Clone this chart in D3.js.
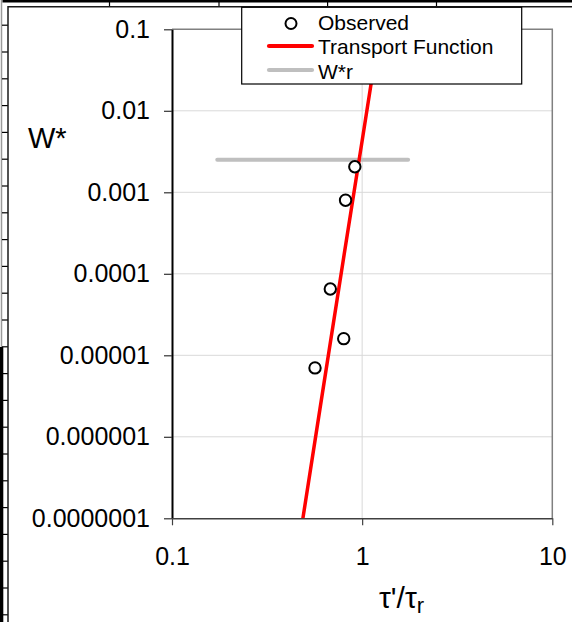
<!DOCTYPE html>
<html>
<head>
<meta charset="utf-8">
<script src="https://cdn.jsdelivr.net/npm/d3@7/dist/d3.min.js"></script>
<style>
  html, body { margin: 0; padding: 0; background: #ffffff; }
  svg { display: block; font-family: "Liberation Sans", Arial, sans-serif; }
</style>
</head>
<body>
<svg id="chart" width="572" height="622"></svg>
<script>
// Observed bedload transport rates (dimensionless W*) against shear stress ratio
const obsTau = [0.915, 0.818, 0.68, 0.80, 0.565];
const obsW   = [0.00206, 0.0008, 0.000065, 0.000016, 0.000007];

// Transport function curve
const fnTau = [0.488, 0.6, 0.8, 1.0, 1.236];
const fnW   = [1e-7, 2.2e-6, 1.6e-4, 4.3e-3, 0.1];

// Reference transport rate W*r
const refTau = [0.173, 1.745];
const refW   = [0.0025, 0.0025];

// Axis ticks
const xTicks = [0.1, 1, 10];
const xTickLabels = ["0.1", "1", "10"];
const yTicks = [0.1, 0.01, 0.001, 0.0001, 0.00001, 0.000001, 0.0000001];
const yTickLabels = ["0.1", "0.01", "0.001", "0.0001", "0.00001", "0.000001", "0.0000001"];

const legendLabels = ["Observed", "Transport Function", "W*r"];

const svg = d3.select("#chart");
const plot = { left: 172, right: 552.3, top: 29.3, bottom: 518.3 };

const x = d3.scaleLog().domain([0.1, 10]).range([plot.left, plot.right]);
const y = d3.scaleLog().domain([1e-7, 0.1]).range([plot.bottom, plot.top]);

// ---- sheet background lines around the chart object ----
const sheet = svg.append("g");
sheet.append("line").attr("x1", 1.5).attr("x2", 1.5).attr("y1", 0).attr("y2", 347)
  .attr("stroke", "#9a9a9a").attr("stroke-width", 1.5);
sheet.append("rect").attr("x", 0).attr("y", 347).attr("width", 3.3).attr("height", 275).attr("fill", "#000");
sheet.append("rect").attr("x", 2.5).attr("y", 0).attr("width", 572).attr("height", 2.5).attr("fill", "#000");
d3.range(0, 23).forEach(k => {
  const yy = 25.2 + 26.8 * k;
  sheet.append("line").attr("x1", 2).attr("x2", 8).attr("y1", yy).attr("y2", yy)
    .attr("stroke", "#000").attr("stroke-width", 1.2);
});
[109.5, 219, 327.6, 436.5].forEach(xx => {
  sheet.append("line").attr("x1", xx).attr("x2", xx).attr("y1", 2).attr("y2", 7)
    .attr("stroke", "#000").attr("stroke-width", 1.2);
});
// chart object frame
sheet.append("path").attr("d", "M8,622 V6.8 H572").attr("fill", "none")
  .attr("stroke", "#1a1a1a").attr("stroke-width", 1.5);

// ---- gridlines ----
const grid = svg.append("g");
yTicks.filter(v => v < 0.1 && v > 1e-7).forEach(v => {
  grid.append("line").attr("x1", plot.left).attr("x2", plot.right)
    .attr("y1", y(v)).attr("y2", y(v)).attr("stroke", "#d9d9d9").attr("stroke-width", 1);
});
xTicks.filter(v => v > 0.1 && v < 10).forEach(v => {
  grid.append("line").attr("x1", x(v)).attr("x2", x(v))
    .attr("y1", plot.top).attr("y2", plot.bottom).attr("stroke", "#d9d9d9").attr("stroke-width", 1);
});

// top and right plot border
svg.append("path")
  .attr("d", `M${plot.left},${plot.top} H${plot.right} V${plot.bottom}`)
  .attr("fill", "none").attr("stroke", "#808080").attr("stroke-width", 1.5);

// ---- axes ----
const yAxis = d3.axisLeft(y).tickValues(yTicks)
  .tickFormat((d, i) => yTickLabels[i]).tickSize(8).tickSizeOuter(0).tickPadding(14);
const gy = svg.append("g").attr("transform", `translate(${plot.left},0)`).call(yAxis);
gy.select(".domain").attr("stroke", "#000").attr("stroke-width", 2);
gy.selectAll(".tick line").attr("stroke", "#333").attr("stroke-width", 1.2);
gy.selectAll(".tick text").attr("font-size", 25).attr("fill", "#000")
  .attr("font-family", "Liberation Sans, Arial, sans-serif");

const xAxis = d3.axisBottom(x).tickValues(xTicks)
  .tickFormat((d, i) => xTickLabels[i]).tickSize(7).tickSizeOuter(0).tickPadding(21.5);
const gx = svg.append("g").attr("transform", `translate(0,${plot.bottom})`).call(xAxis);
gx.select(".domain").attr("stroke", "#404040").attr("stroke-width", 1.5);
gx.selectAll(".tick line").attr("stroke", "#404040").attr("stroke-width", 1.2);
gx.selectAll(".tick text").attr("font-size", 25).attr("fill", "#000")
  .attr("font-family", "Liberation Sans, Arial, sans-serif");

// axis titles
svg.append("text").attr("x", 28).attr("y", 148).attr("font-size", 29).attr("fill", "#000").text("W*");
const xt = svg.append("text").attr("x", 379).attr("y", 608).attr("font-size", 30).attr("fill", "#000");
xt.append("tspan").text("τ'/τ");
xt.append("tspan").attr("font-size", 22).attr("dy", 5.3).text("r");

// ---- data series ----
svg.append("defs").append("clipPath").attr("id", "plotClip")
  .append("rect").attr("x", plot.left).attr("y", plot.top)
  .attr("width", plot.right - plot.left).attr("height", plot.bottom - plot.top);

const line = d3.line().x(d => x(d[0])).y(d => y(d[1]));

svg.append("path")
  .datum(d3.zip(refTau, refW))
  .attr("d", line).attr("fill", "none")
  .attr("stroke", "#bfbfbf").attr("stroke-width", 4).attr("stroke-linecap", "round");

svg.append("path")
  .datum(d3.zip(fnTau, fnW))
  .attr("clip-path", "url(#plotClip)")
  .attr("d", line).attr("fill", "none")
  .attr("stroke", "#ff0000").attr("stroke-width", 3.5);

svg.append("g").selectAll("circle")
  .data(d3.zip(obsTau, obsW))
  .join("circle")
  .attr("cx", d => x(d[0])).attr("cy", d => y(d[1])).attr("r", 5.7)
  .attr("fill", "#fff").attr("stroke", "#000").attr("stroke-width", 2);

// ---- legend ----
const lg = svg.append("g");
lg.append("rect").attr("x", 241.7).attr("y", 7.3).attr("width", 280).attr("height", 76.7)
  .attr("fill", "#fff").attr("stroke", "#000").attr("stroke-width", 1.2);
lg.append("circle").attr("cx", 291).attr("cy", 23.5).attr("r", 5.5)
  .attr("fill", "#fff").attr("stroke", "#000").attr("stroke-width", 2);
lg.append("line").attr("x1", 269).attr("x2", 312).attr("y1", 46).attr("y2", 46)
  .attr("stroke", "#ff0000").attr("stroke-width", 4.2).attr("stroke-linecap", "round");
lg.append("line").attr("x1", 269).attr("x2", 312).attr("y1", 70).attr("y2", 70)
  .attr("stroke", "#bfbfbf").attr("stroke-width", 4.2).attr("stroke-linecap", "round");
const baselines = [30, 54, 79];
legendLabels.forEach((t, i) => {
  lg.append("text").attr("x", 318).attr("y", baselines[i]).attr("font-size", 21)
    .attr("fill", "#000").text(t);
});
</script>
</body>
</html>
